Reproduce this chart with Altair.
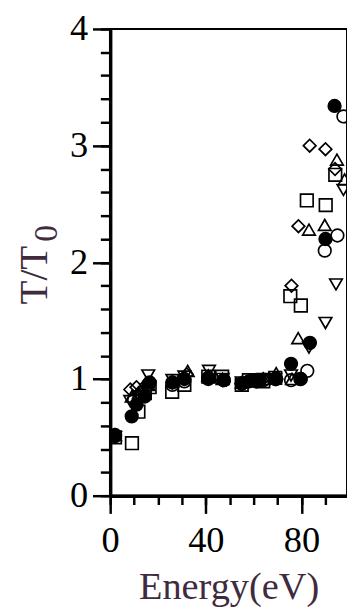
import altair as alt
import pandas as pd

# Energy (eV) and T/T0 for each marker series
E_fc = [2, 9, 11, 14.5, 16.5, 26, 31, 41, 47.5, 55, 58, 62, 69.4, 75.6, 79.5, 83.5, 90, 93.8]
T_fc = [0.51, 0.68, 0.78, 0.85, 0.97, 0.97, 1.00, 1.01, 0.99, 0.96, 0.98, 0.99, 1.00, 1.13, 1.00, 1.31, 2.20, 3.34]

E_oc = [2, 10, 13, 16, 26, 31, 41, 47.5, 55, 61, 64, 69, 75.6, 79.7, 82.4, 89.7, 95, 97.5]
T_oc = [0.52, 0.82, 0.88, 0.95, 0.95, 0.98, 1.00, 0.99, 0.96, 0.98, 0.99, 1.00, 0.99, 1.00, 1.07, 2.10, 2.23, 3.25]

E_sq = [2, 9.1, 11.8, 14.5, 16.5, 25.9, 31, 41, 46.8, 55, 58, 62, 64, 69, 75.3, 79.7, 82.2, 90.1, 94.1]
T_sq = [0.50, 0.45, 0.72, 0.88, 0.93, 0.89, 0.95, 1.02, 1.02, 0.95, 0.99, 0.99, 0.98, 1.01, 1.71, 1.63, 2.53, 2.49, 2.75]

E_tu = [2, 9, 12, 16, 26, 32.4, 41, 47, 55, 61, 64, 69.4, 76, 78.6, 83.1, 89.7, 94.8, 98]
T_tu = [0.52, 0.85, 0.88, 0.95, 0.98, 1.07, 1.03, 1.00, 0.97, 0.99, 1.00, 1.05, 1.00, 1.35, 2.28, 2.32, 2.88, 2.71]

E_td = [2, 8.4, 12, 15.9, 26, 31, 41.3, 47, 55, 61, 64, 69, 75.6, 83.1, 90, 94.4, 97.5]
T_td = [0.50, 0.81, 0.85, 1.03, 0.99, 1.02, 1.07, 1.00, 0.97, 0.99, 1.00, 1.00, 1.03, 1.27, 1.48, 1.81, 2.62]

E_di = [2, 8.4, 11, 15, 26, 32, 41, 47, 55, 61, 64, 69, 75.8, 78.7, 83.4, 90, 94]
T_di = [0.52, 0.91, 0.93, 0.95, 0.97, 1.04, 1.01, 0.99, 0.96, 0.98, 1.00, 1.00, 1.80, 2.31, 3.00, 2.97, 2.80]

series_names = ["filled circle", "open circle", "square", "triangle up", "triangle down", "diamond"]
series_shapes = ["circle", "circle", "square", "triangle-up", "triangle-down", "diamond"]
series_fills = ["black", "transparent", "transparent", "transparent", "transparent", "transparent"]

x_major = [0, 40, 80]
x_minor = list(range(0, 100, 10))
y_major = [0, 1, 2, 3, 4]
y_minor = [round(i * 0.2, 1) for i in range(21)]

rows = []
for name, es, ts in zip(series_names,
                        [E_fc, E_oc, E_sq, E_tu, E_td, E_di],
                        [T_fc, T_oc, T_sq, T_tu, T_td, T_di]):
    for e, t in zip(es, ts):
        rows.append({"series": name, "energy": e, "ratio": t})
df = pd.DataFrame(rows)

FONT = "Liberation Serif"
TITLE_COLOR = "#3f2b3d"
x_scale = alt.Scale(domain=[0, 99], nice=False, zero=False)
y_scale = alt.Scale(domain=[0, 4], nice=False, zero=False)

# major ticks, labels and titles
points = alt.Chart(df).mark_point(
    filled=False, color="black", strokeWidth=1.7, size=165, opacity=1, clip=True
).encode(
    x=alt.X("energy:Q", scale=x_scale,
            axis=alt.Axis(
                orient="bottom", values=x_major, format="d",
                tickSize=18, tickWidth=2.5, tickColor="black",
                domainWidth=3.5, domainColor="black",
                grid=False, labelFlush=False, labelOverlap=False,
                labelFont=FONT, labelFontSize=37, labelColor="black",
                labelPadding=10,
                title="Energy(eV)", titleFont=FONT, titleFontSize=39,
                titleFontWeight="normal", titleColor=TITLE_COLOR,
                titleBaseline="alphabetic", titleY=105,
            )),
    y=alt.Y("ratio:Q", scale=y_scale,
            axis=alt.Axis(
                orient="left", values=y_major, format="d",
                tickSize=18, tickWidth=2.5, tickColor="black",
                domainWidth=3.5, domainColor="black",
                grid=False, labelFlush=False, labelOverlap=False,
                labelFont=FONT, labelFontSize=37, labelColor="black",
                labelPadding=5,
                title="T/T", titleFont=FONT, titleFontSize=40,
                titleFontWeight="normal", titleColor=TITLE_COLOR,
                titleAngle=270, titleAlign="center", titleBaseline="alphabetic",
                titleX=-65, titleY=250,
            )),
    shape=alt.Shape("series:N", scale=alt.Scale(domain=series_names, range=series_shapes), legend=None),
    fill=alt.Fill("series:N", scale=alt.Scale(domain=series_names, range=series_fills), legend=None),
)

# minor ticks (invisible layer that only carries the minor-tick axes)
minor = alt.Chart(df).mark_point(opacity=0, size=1).encode(
    x=alt.X("energy:Q", scale=x_scale,
            axis=alt.Axis(orient="bottom", values=x_minor, tickSize=9, tickWidth=2.5,
                          tickColor="black", labels=False, domain=False, grid=False, title=None)),
    y=alt.Y("ratio:Q", scale=y_scale,
            axis=alt.Axis(orient="left", values=y_minor, tickSize=10, tickWidth=2.5,
                          tickColor="black", labels=False, domain=False, grid=False, title=None)),
)

sub = alt.Chart(pd.DataFrame({"t": ["0"]})).mark_text(
    font=FONT, fontSize=34, color=TITLE_COLOR, angle=270,
    align="center", baseline="alphabetic"
).encode(
    text="t:N",
    x=alt.value(-54),
    y=alt.value(208),
)

chart = alt.layer(minor, points, sub).resolve_axis(
    x="independent", y="independent"
).properties(
    width=241, height=475,
    autosize=alt.AutoSizeParams(type="none"),
    padding={"left": 104, "top": 16, "right": 0, "bottom": 110},
).configure_view(stroke="black", strokeWidth=2)

chart.save("out.html", embed_options={"renderer": "svg", "actions": False})
